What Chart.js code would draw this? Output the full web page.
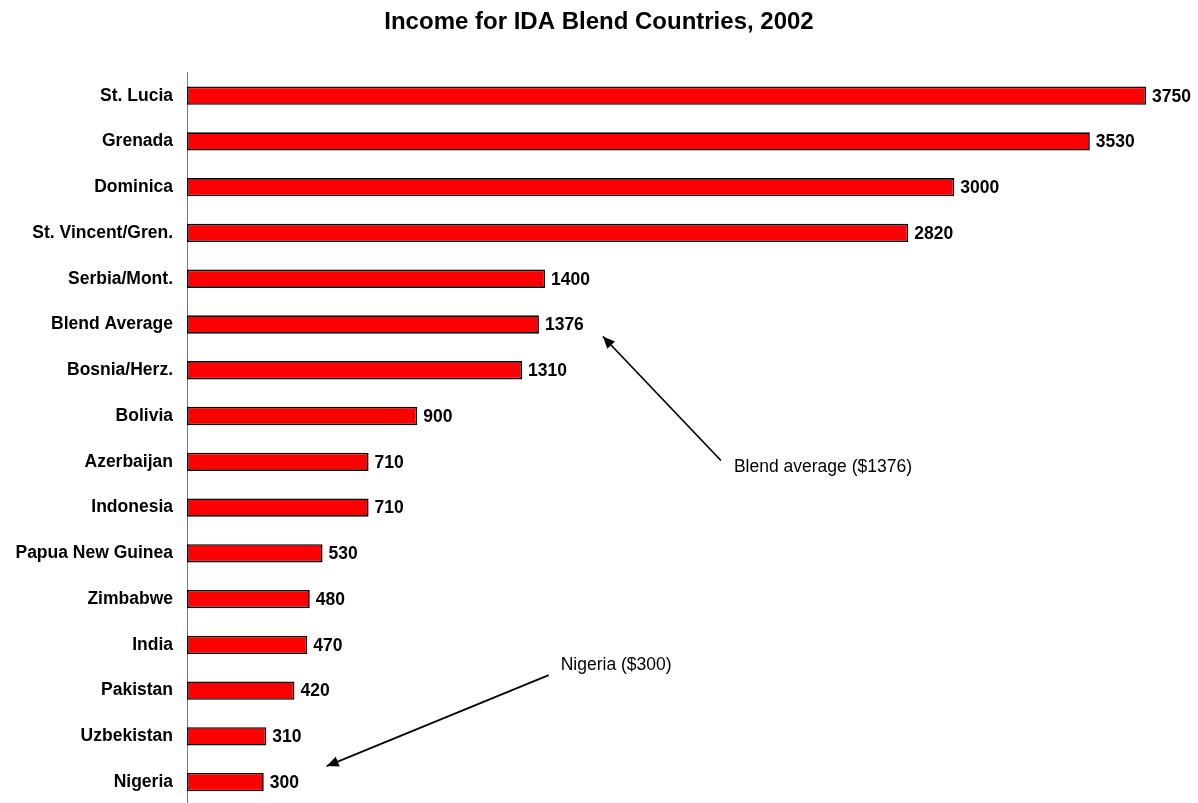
<!DOCTYPE html>
<html>
<head>
<meta charset="utf-8">
<script src="https://cdn.jsdelivr.net/npm/chart.js@4/dist/chart.umd.min.js"></script>
<style>
  html, body { margin: 0; padding: 0; background: #fff; overflow: hidden; }
  #wrap { position: relative; width: 1198px; height: 808px; }
</style>
</head>
<body>
<div id="wrap"><canvas id="myChart"></canvas></div>
<script>
// chart data
const countries = ['St. Lucia', 'Grenada', 'Dominica', 'St. Vincent/Gren.', 'Serbia/Mont.',
  'Blend Average', 'Bosnia/Herz.', 'Bolivia', 'Azerbaijan', 'Indonesia', 'Papua New Guinea',
  'Zimbabwe', 'India', 'Pakistan', 'Uzbekistan', 'Nigeria'];
const income = [3750, 3530, 3000, 2820, 1400, 1376, 1310, 900, 710, 710, 530, 480, 470, 420, 310, 300];
const titleText = 'Income for IDA Blend Countries, 2002';
const notes = [
  { text: 'Blend average ($1376)', category: 'Blend Average' },
  { text: 'Nigeria ($300)', category: 'Nigeria' }
];

const FONT = 'Arial, "Liberation Sans", sans-serif';

function arrow(ctx, x1, y1, x2, y2) {
  ctx.save();
  ctx.strokeStyle = '#000';
  ctx.fillStyle = '#000';
  ctx.lineWidth = 1.7;
  ctx.beginPath();
  ctx.moveTo(x1, y1);
  ctx.lineTo(x2, y2);
  ctx.stroke();
  const a = Math.atan2(y2 - y1, x2 - x1);
  const len = 13, w = 0.42;
  ctx.beginPath();
  ctx.moveTo(x2, y2);
  ctx.lineTo(x2 - len * Math.cos(a - w), y2 - len * Math.sin(a - w));
  ctx.lineTo(x2 - len * Math.cos(a + w), y2 - len * Math.sin(a + w));
  ctx.closePath();
  ctx.fill();
  ctx.restore();
}

// value labels + annotation arrows
const extras = {
  id: 'extras',
  afterDatasetsDraw(chart) {
    const ctx = chart.ctx;
    const meta = chart.getDatasetMeta(0);
    ctx.save();
    ctx.font = 'bold 17.5px ' + FONT;
    ctx.fillStyle = '#000';
    ctx.textBaseline = 'middle';
    ctx.textAlign = 'left';
    meta.data.forEach((bar, i) => {
      ctx.fillText(String(income[i]), bar.x + 6, bar.y + 1);
    });

    const xs = chart.scales.x, ys = chart.scales.y;
    ctx.font = '17.5px ' + FONT;
    // blend average note
    const bi = countries.indexOf(notes[0].category);
    const bx = xs.getPixelForValue(income[bi]);
    const by = ys.getPixelForValue(bi);
    ctx.fillText(notes[0].text, bx + 195, by + 143);
    arrow(ctx, bx + 182, by + 136, bx + 64, by + 12);
    // nigeria note
    const ni = countries.indexOf(notes[1].category);
    const nx = xs.getPixelForValue(income[ni]);
    const ny = ys.getPixelForValue(ni);
    ctx.fillText(notes[1].text, nx + 297, ny - 117);
    arrow(ctx, nx + 285, ny - 107, nx + 63, ny - 16);
    ctx.restore();
  }
};

function initChart(target) {
  return new Chart(target, {
    type: 'bar',
    data: {
      labels: countries,
      datasets: [{
        data: income,
        backgroundColor: '#ff0000',
        borderColor: '#000',
        borderWidth: 1.6,
        borderSkipped: false,
        barPercentage: 0.4,
        categoryPercentage: 1
      }]
    },
    options: {
      indexAxis: 'y',
      responsive: true,
      maintainAspectRatio: false,
      animation: false,
      layout: { padding: { left: 0, right: 0, top: 0, bottom: 3 } },
      plugins: {
        legend: { display: false },
        tooltip: { enabled: false },
        title: {
          display: true,
          text: titleText,
          color: '#000',
          font: { family: FONT, size: 24, weight: 'bold', lineHeight: 1.2 },
          padding: { top: 8, bottom: 36 }
        }
      },
      scales: {
        // room on the right for the value labels
        x: { display: false, min: 0, max: 3953 },
        y: {
          grid: { display: false, drawTicks: false },
          border: { display: true, color: '#777', width: 1 },
          ticks: {
            color: '#000',
            padding: 14,
            font: { family: FONT, size: 17.5, weight: 'bold' }
          },
          afterFit(scale) {
            scale.width = 187;
            scale.paddingTop = 0;
            scale.paddingBottom = 0;
          }
        }
      }
    },
    plugins: [extras]
  });
}

document.addEventListener('DOMContentLoaded', () => {
  initChart(document.querySelector('#myChart'));
});
</script>
</body>
</html>
